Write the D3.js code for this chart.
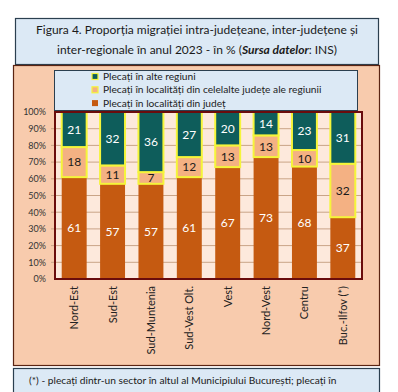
<!DOCTYPE html>
<html>
<head>
<meta charset="utf-8">
<script src="https://cdn.jsdelivr.net/npm/d3@7"></script>
<style>
  body { margin: 0; background: #fff; }
  svg text { font-family: Lato, "Open Sans", sans-serif; }
</style>
</head>
<body>
<svg id="chart" width="398" height="392"></svg>
<script>
// chart values
const regions = ["Nord-Est", "Sud-Est", "Sud-Muntenia", "Sud-Vest Olt.", "Vest", "Nord-Vest", "Centru", "Buc.-Ilfov (*)"];
const inCounty = [61, 57, 57, 61, 67, 73, 68, 37];
const otherCounties = [18, 11, 7, 12, 13, 13, 10, 32];
const otherRegions = [21, 32, 36, 27, 20, 14, 23, 31];
const seriesNames = [
  "Plecați în localități din județ",
  "Plecați în localități din celelalte județe ale regiunii",
  "Plecați în alte regiuni"
];
const yTicks = [0, 0.1, 0.2, 0.3, 0.4, 0.5, 0.6, 0.7, 0.8, 0.9, 1];

const colors = ["#c55a11", "#f4b183", "#0e5d5b"];
const labelColors = ["#ffffff", "#1a1a1a", "#ffffff"];

const rows = regions.map((r, i) => ({
  region: r,
  k0: inCounty[i],
  k1: otherCounties[i],
  k2: otherRegions[i]
}));
const keys = ["k0", "k1", "k2"];

const svg = d3.select("#chart");

// title box
svg.append("rect")
  .attr("x", 15.5).attr("y", 18.5).attr("width", 363).attr("height", 46)
  .attr("fill", "#dce9f5").attr("stroke", "#2b3f4f").attr("stroke-width", 1.2);
svg.append("text")
  .attr("x", 197).attr("y", 34)
  .attr("text-anchor", "middle").attr("font-size", 12).attr("fill", "#1a1a1a")
  .text("Figura 4. Proporția migrației intra-județeane, inter-județene și");
const t2 = svg.append("text")
  .attr("x", 197).attr("y", 54)
  .attr("text-anchor", "middle").attr("font-size", 12).attr("fill", "#1a1a1a");
t2.append("tspan").text("inter-regionale în anul 2023 - în %  (");
t2.append("tspan").attr("font-weight", "bold").attr("font-style", "italic").text("Sursa datelor");
t2.append("tspan").text(":  INS)");

// chart area
svg.append("rect")
  .attr("x", 13.5).attr("y", 65.5).attr("width", 366).attr("height", 300)
  .attr("fill", "#f8cbad").attr("stroke", "#5b2412").attr("stroke-width", 1.2);

// plot area
const m = { left: 55, right: 362, top: 112, bottom: 279 };

const x = d3.scaleBand()
  .domain(regions)
  .range([m.left, m.right])
  .paddingInner(0.35)
  .paddingOuter(0.175);

const y = d3.scaleLinear()
  .domain([0, 1])
  .range([m.bottom, m.top]);

svg.append("rect")
  .attr("x", m.left).attr("y", m.top)
  .attr("width", m.right - m.left).attr("height", m.bottom - m.top)
  .attr("fill", "#fde9dc");

// grid lines
svg.append("g")
  .selectAll("line")
  .data(yTicks.slice(1, -1))
  .join("line")
  .attr("x1", m.left - 4).attr("x2", m.right)
  .attr("y1", d => y(d)).attr("y2", d => y(d))
  .attr("stroke", "#c9a487").attr("stroke-width", 1);

// y axis labels
const yAxis = svg.append("g")
  .attr("transform", `translate(${m.left},0)`)
  .call(d3.axisLeft(y).tickValues(yTicks).tickFormat(d3.format(".0%")).tickSize(0).tickPadding(9));
yAxis.select(".domain").remove();
yAxis.selectAll("text").attr("font-size", 9).attr("fill", "#333");

// stacked bars (100% stacked)
const stacked = d3.stack().keys(keys).offset(d3.stackOffsetExpand)(rows);

const layers = svg.append("g")
  .selectAll("g")
  .data(stacked)
  .join("g");

layers.selectAll("rect")
  .data(d => d.map(v => ({ v, key: d.key, idx: d.index })))
  .join("rect")
  .attr("x", d => x(d.v.data.region))
  .attr("y", d => y(d.v[1]))
  .attr("width", x.bandwidth())
  .attr("height", d => y(d.v[0]) - y(d.v[1]))
  .attr("fill", d => colors[d.idx])
  .attr("stroke", d => d.idx === 0 ? "none" : "#f5f53a")
  .attr("stroke-width", 2);

layers.selectAll("text")
  .data(d => d.map(v => ({ v, key: d.key, idx: d.index })))
  .join("text")
  .attr("x", d => x(d.v.data.region) + x.bandwidth() / 2)
  .attr("y", d => (y(d.v[0]) + y(d.v[1])) / 2)
  .attr("dy", "0.36em")
  .attr("text-anchor", "middle")
  .attr("font-size", 12)
  .attr("fill", d => labelColors[d.idx])
  .text(d => d.v.data[d.key]);

// plot border
svg.append("rect")
  .attr("x", m.left).attr("y", m.top)
  .attr("width", m.right - m.left).attr("height", m.bottom - m.top)
  .attr("fill", "none").attr("stroke", "#6a0c0c").attr("stroke-width", 2);

// x labels, rotated
svg.append("g")
  .selectAll("text")
  .data(regions)
  .join("text")
  .attr("transform", d => `translate(${x(d) + x.bandwidth() / 2 + 4},${m.bottom + 7}) rotate(-90)`)
  .attr("text-anchor", "end")
  .attr("font-size", 11)
  .attr("fill", "#222")
  .text(d => d);

// legend
svg.append("rect")
  .attr("x", 54.5).attr("y", 70.5).attr("width", 303).attr("height", 40)
  .attr("fill", "#dce9f5").attr("stroke", "#2b3f4f").attr("stroke-width", 1);

const legendOrder = [2, 1, 0];
const leg = svg.append("g")
  .selectAll("g")
  .data(legendOrder)
  .join("g")
  .attr("transform", (d, i) => `translate(95,${76.5 + i * 13.3})`);
leg.append("rect")
  .attr("x", -3).attr("y", -3).attr("width", 6).attr("height", 6)
  .attr("fill", d => colors[d])
  .attr("stroke", d => d === 0 ? "none" : "#f5f53a").attr("stroke-width", 1.2);
leg.append("text")
  .attr("x", 8).attr("dy", "0.36em")
  .attr("font-size", 10.2)
  .attr("fill", "#222")
  .text(d => seriesNames[d]);

// footnote box
svg.append("rect")
  .attr("x", 13.5).attr("y", 368.5).attr("width", 366).attr("height", 40)
  .attr("fill", "#dce9f5").attr("stroke", "#2b3f4f").attr("stroke-width", 1.2);
svg.append("text")
  .attr("x", 29).attr("y", 384)
  .attr("font-size", 10.2).attr("fill", "#1a1a1a")
  .text("(*) - plecați dintr-un sector în altul al Municipiului București; plecați în");
svg.append("text")
  .attr("x", 40).attr("y", 399)
  .attr("font-size", 10.2).attr("fill", "#1a1a1a")
  .text("localități din județul Ilfov și invers");
</script>
</body>
</html>
